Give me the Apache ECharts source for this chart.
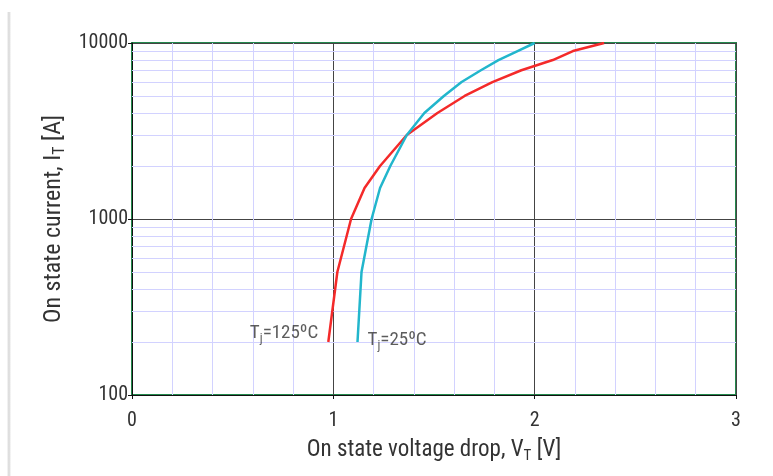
<!DOCTYPE html>
<html><head><meta charset="utf-8">
<script src="https://cdn.jsdelivr.net/npm/echarts@6/dist/echarts.min.js"></script>
<style>html,body{margin:0;padding:0;background:#fff}#c{width:773px;height:476px}</style>
</head><body><div id="c"></div>
<script>
const currentA = [200, 500, 1000, 1500, 2000, 3000, 4000, 5000, 6000, 7000, 8000, 9000, 10000];
const voltage125 = [0.975, 1.02, 1.088, 1.155, 1.232, 1.365, 1.517, 1.652, 1.79, 1.934, 2.09, 2.19, 2.345];
const voltage25  = [1.12, 1.14, 1.19, 1.232, 1.283, 1.365, 1.452, 1.549, 1.637, 1.733, 1.82, 1.915, 2.0];
const minorCurrents = [200,300,400,500,600,700,800,900,2000,3000,4000,5000,6000,7000,8000,9000];
const xTicks = [0, 1, 2, 3];
const yTicks = [100, 1000, 10000];
const label125 = 'Tj=125ºC';
const label25 = 'Tj=25ºC';

const FONT = '"Roboto Condensed", "Liberation Sans Narrow", "Roboto", sans-serif';
const chart = echarts.init(document.getElementById('c'), null, {renderer: 'canvas'});

function sub(txt) {
  return '{n|' + txt[0] + '}{s|' + txt[1] + '}{n|' + txt.slice(2) + '}';
}
const richSub = {
  n: {fontSize: 19, fontFamily: FONT, color: '#333'},
  s: {fontSize: 13, fontFamily: FONT, color: '#333', padding: [11, 0, 0, 0]}
};

function curve(vs, color) {
  return {
    type: 'line',
    data: vs.map((v, i) => [v, currentA[i]]),
    showSymbol: false, symbol: 'none',
    lineStyle: {color: color, width: 2.5},
    itemStyle: {color: color},
    z: 5, silent: true, animation: false
  };
}
function tag(vs, lbl, pos, dist, off) {
  return {
    type: 'scatter', symbolSize: 0, silent: true, z: 6, animation: false,
    data: [[vs[0], currentA[0]]],
    label: {show: true, position: pos, distance: dist, offset: off,
      formatter: sub(lbl), rich: richSub}
  };
}

chart.setOption({
  animation: false,
  backgroundColor: '#fff',
  grid: {left: 132, top: 43, width: 604, height: 352, show: true,
    borderColor: '#23894d', borderWidth: 2, backgroundColor: 'transparent'},
  xAxis: {
    type: 'value', min: 0, max: 3, interval: 1,
    axisLine: {show: true, lineStyle: {color: '#111', width: 1}},
    axisTick: {show: true, length: 4, lineStyle: {color: '#111'}},
    axisLabel: {color: '#333', fontSize: 20, fontFamily: FONT, margin: 16,
      formatter: v => xTicks.includes(v) ? String(v) : ''},
    splitLine: {show: true, lineStyle: {color: '#444', width: 1}},
    minorTick: {show: false, splitNumber: 5},
    minorSplitLine: {show: true, lineStyle: {color: '#d2d2ff', width: 1}},
    name: '{n|On state voltage drop, V}{s|T}{n| [V]}',
    nameLocation: 'middle', nameGap: 42,
    nameTextStyle: {rich: {
      n: {fontSize: 23, fontFamily: FONT, color: '#333'},
      s: {fontSize: 15, fontFamily: FONT, color: '#333', padding: [12, 0, 0, 0]}
    }}
  },
  yAxis: {
    type: 'log', logBase: 10, min: 100, max: 10000,
    axisLine: {show: true, lineStyle: {color: '#111', width: 1}},
    axisTick: {show: true, length: 4, lineStyle: {color: '#111'}},
    axisLabel: {color: '#333', fontSize: 20, fontFamily: FONT, margin: 4,
      formatter: v => yTicks.includes(Math.round(v)) ? String(Math.round(v)) : ''},
    splitLine: {show: true, lineStyle: {color: '#444', width: 1}},
    name: '{n|On state current, I}{s|T}{n| [A]}',
    nameLocation: 'middle', nameGap: 64, nameRotate: 90,
    nameTextStyle: {rich: {
      n: {fontSize: 24, fontFamily: FONT, color: '#333'},
      s: {fontSize: 16, fontFamily: FONT, color: '#333', padding: [12, 0, 0, 0]}
    }}
  },
  graphic: [{
    type: 'rect', left: 7, top: 12, shape: {width: 4, height: 464}, silent: true,
    style: {fill: new echarts.graphic.LinearGradient(0, 0, 1, 0, [
      {offset: 0, color: 'rgba(220,220,220,0.2)'},
      {offset: 0.5, color: 'rgba(200,200,200,0.8)'},
      {offset: 1, color: 'rgba(235,235,235,0.3)'}])}
  }],
  series: [
    {
      type: 'line', data: [], silent: true, z: 1,
      markLine: {silent: true, symbol: 'none', animation: false, label: {show: false},
        lineStyle: {color: '#d2d2ff', width: 1, type: 'solid'},
        data: minorCurrents.map(c => ({yAxis: c}))}
    },
    curve(voltage125, '#f42a2a'),
    curve(voltage25, '#22b6cc'),
    tag(voltage125, label125, 'left', 10, [0, -9]),
    tag(voltage25, label25, 'right', 10, [0, -2])
  ]
});
</script></body></html>
